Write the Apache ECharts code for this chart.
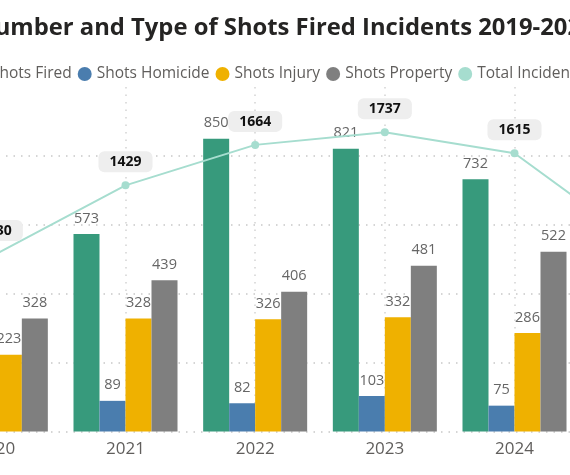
<!DOCTYPE html>
<html>
<head>
<meta charset="utf-8">
<script src="https://cdn.jsdelivr.net/npm/echarts@6/dist/echarts.min.js"></script>
<style>
html,body{margin:0;padding:0;width:570px;height:475px;overflow:hidden;background:#fff;}
#chart{position:absolute;left:-100px;top:0;width:900px;height:475px;}
</style>
</head>
<body>
<div id="chart"></div>
<script>
// Data (null = not visible in the cropped view)
var titleText = 'Number and Type of Shots Fired Incidents 2019-2025';
var categories = ['2020', '2021', '2022', '2023', '2024', '2025'];
var shotsFired = [null, 573, 850, 821, 732, null];
var shotsHomicide = [null, 89, 82, 103, 75, null];
var shotsInjury = [223, 328, 326, 332, 286, null];
var shotsProperty = [328, 439, 406, 481, 522, null];
var totalIncidents = [1030, 1429, 1664, 1737, 1615, 1066];
var seriesNames = ['Shots Fired', 'Shots Homicide', 'Shots Injury', 'Shots Property', 'Total Incidents'];

var FONT = '"Open Sans", "Noto Sans", sans-serif';
var colors = ['#379A7C', '#4A7DAE', '#EFB100', '#7F7F7F', '#A6DDCF'];

var chart = echarts.init(document.getElementById('chart'), null, {renderer: 'canvas'});

function barSeries(name, data, color) {
  return {
    name: name,
    type: 'bar',
    data: data,
    barWidth: 26,
    barGap: '0%',
    itemStyle: {color: color},
    label: {
      show: true,
      position: 'top',
      distance: 8,
      color: '#666666',
      fontSize: 14.5,
      fontFamily: FONT
    }
  };
}

var option = {
  animation: false,
  color: colors,
  graphic: [{
    type: 'text',
    x: 385,
    y: 28,
    style: {
      text: titleText,
      font: 'bold 23.8px "Open Sans", sans-serif',
      fill: '#252423',
      textAlign: 'center',
      textVerticalAlign: 'middle'
    }
  }],
  legend: {
    data: seriesNames,
    left: 67,
    top: 61,
    icon: 'circle',
    itemWidth: 14,
    itemHeight: 14,
    itemGap: 6,
    textStyle: {color: '#605E5C', fontSize: 15.5, fontFamily: FONT}
  },
  grid: {left: 31, width: 778, top: 87, bottom: 43.5},
  xAxis: {
    type: 'category',
    data: categories,
    axisLine: {show: false},
    axisTick: {show: false},
    axisLabel: {color: '#605E5C', fontSize: 17, fontFamily: FONT, margin: 9},
    splitLine: {
      show: true,
      alignWithLabel: true,
      lineStyle: {color: '#D3D3D3', type: [1.5, 6], width: 1.5}
    }
  },
  yAxis: [{
    type: 'value',
    min: 0,
    max: 1000,
    interval: 200,
    axisLabel: {show: false},
    axisLine: {show: false},
    axisTick: {show: false},
    splitLine: {
      show: true,
      showMaxLine: false,
      lineStyle: {color: '#C8C8C8', type: [1.5, 6], width: 1.5}
    }
  }, {
    type: 'value',
    min: 0,
    max: 2000,
    show: false,
    splitLine: {show: false}
  }],
  series: [
    barSeries(seriesNames[0], shotsFired, colors[0]),
    barSeries(seriesNames[1], shotsHomicide, colors[1]),
    barSeries(seriesNames[2], shotsInjury, colors[2]),
    barSeries(seriesNames[3], shotsProperty, colors[3]),
    {
      name: seriesNames[4],
      type: 'line',
      yAxisIndex: 1,
      data: totalIncidents,
      z: 5,
      symbol: 'circle',
      symbolSize: 8,
      lineStyle: {color: colors[4], width: 2},
      itemStyle: {color: colors[4]},
      label: {
        show: true,
        position: 'top',
        distance: 9,
        color: '#111111',
        fontWeight: 'bold',
        fontSize: 14,
        fontFamily: FONT,
        backgroundColor: '#EEEEEE',
        borderRadius: 6,
        padding: [4, 11, 3, 11]
      }
    }
  ]
};
chart.setOption(option);
</script>
</body>
</html>
